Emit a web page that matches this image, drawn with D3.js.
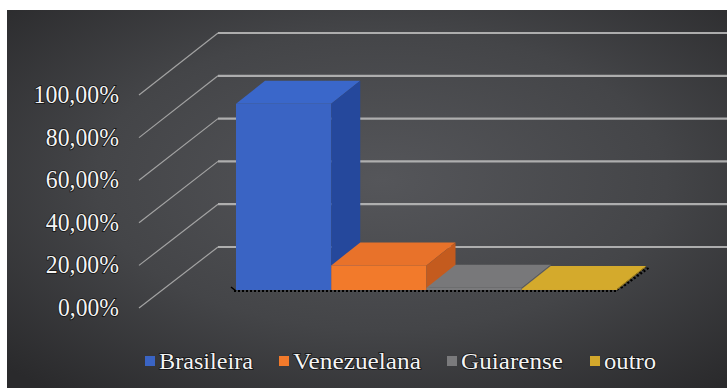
<!DOCTYPE html>
<html>
<head>
<meta charset="utf-8">
<script src="https://cdn.jsdelivr.net/npm/d3@7"></script>
<style>
  html, body { margin: 0; padding: 0; background: #ffffff; }
  svg { display: block; }
  .serif { font-family: "Liberation Serif", "Times New Roman", "DejaVu Serif", serif; }
</style>
</head>
<body>
<svg id="chart" width="727" height="388"></svg>
<script>
// ---- data ----
const categories = ["Brasileira", "Venezuelana", "Guiarense", "outro"];
const values = [0.87, 0.115, 0.01, 0.005];
const tickValues = [0, 0.2, 0.4, 0.6, 0.8, 1.0];
const tickLabels = ["0,00%", "20,00%", "40,00%", "60,00%", "80,00%", "100,00%"];

// ---- styles ----
const frontColors = ["#3a64c4", "#f27a2b", "#7a7a7c", "#d3a82c"];
const topColors   = ["#3a67ca", "#e8722a", "#78787a", "#d4aa2c"];
const sideColors  = ["#25489c", "#c45b1e", "#5e5e60", "#a8861f"];

const svg = d3.select("#chart");
const W = 727, H = 388;

// background
const defs = svg.append("defs");
const rg = defs.append("radialGradient").attr("id", "bg")
  .attr("cx", "0.52").attr("cy", "0.45").attr("r", "0.72");
rg.append("stop").attr("offset", "0").attr("stop-color", "#55565a");
rg.append("stop").attr("offset", "0.55").attr("stop-color", "#444548");
rg.append("stop").attr("offset", "1").attr("stop-color", "#2a2a2c");

svg.append("rect").attr("x", 0).attr("y", 0).attr("width", W).attr("height", H).attr("fill", "#ffffff");
svg.append("rect").attr("x", 7).attr("y", 10).attr("width", W - 7).attr("height", H - 10).attr("fill", "url(#bg)");

// ---- scales ----
const yBack  = d3.scaleLinear().domain([0, 1]).range([247, 33]);   // back wall
const yLabel = d3.scaleLinear().domain([0, 1]).range([308, 95]);   // front end of side wall
const yBar   = d3.scaleLinear().domain([0, 1]).range([290, 76]);   // bars front plane
const x = d3.scaleBand().domain(categories).range([236, 617]).padding(0);
const depth = { dx: 29, dy: -23 };
const backLeftX = 218, frontLeftX = 139;

// back wall gridlines
svg.append("g").selectAll("line").data(tickValues).join("line")
  .attr("x1", backLeftX).attr("x2", W)
  .attr("y1", d => yBack(d)).attr("y2", d => yBack(d))
  .attr("stroke", "#b9b9b9").attr("stroke-width", 2.2).attr("opacity", 0.9);

// side wall diagonals
svg.append("g").selectAll("line").data(tickValues).join("line")
  .attr("x1", backLeftX).attr("y1", d => yBack(d))
  .attr("x2", frontLeftX).attr("y2", d => yLabel(d))
  .attr("stroke", "#a3a3a3").attr("stroke-width", 1.2);

// axis labels
svg.append("g").selectAll("text").data(tickValues).join("text")
  .attr("class", "serif")
  .attr("x", 119).attr("y", d => yLabel(d) + 8)
  .attr("text-anchor", "end")
  .attr("font-size", 25)
  .attr("textLength", (d, i) => tickLabels[i].length * 12.2)
  .attr("lengthAdjust", "spacingAndGlyphs")
  .attr("fill", "#f4f4f4")
  .attr("stroke", "#111").attr("stroke-width", 1.6).attr("paint-order", "stroke")
  .text((d, i) => tickLabels[i]);

// floor outline (dotted)
const x0 = x.range()[0], x1 = x.range()[1], y0 = yBar(0);
const floor = svg.append("g").attr("fill", "none").attr("stroke", "#000").attr("stroke-width", 2)
  .attr("stroke-dasharray", "2,2");
floor.append("line").attr("x1", x0 + depth.dx).attr("y1", y0 + depth.dy)
  .attr("x2", x1 + depth.dx).attr("y2", y0 + depth.dy).attr("stroke-dasharray", "2,20");
floor.append("line").attr("x1", x1).attr("y1", y0).attr("x2", x1 + depth.dx).attr("y2", y0 + depth.dy);
floor.append("line").attr("x1", x1 + 4).attr("y1", y0 - 2).attr("x2", x1 + depth.dx + 4).attr("y2", y0 + depth.dy);

// bars
const bars = svg.append("g");
categories.forEach((c, i) => {
  const v = values[i];
  const bx = x(c), bw = x.bandwidth();
  const yt = yBar(v), yb = yBar(0);
  const g = bars.append("g");
  g.append("rect").attr("x", bx).attr("y", yt).attr("width", bw).attr("height", yb - yt)
    .attr("fill", frontColors[i]);
  g.append("path").attr("d", d3.line()([
    [bx, yt], [bx + depth.dx, yt + depth.dy], [bx + bw + depth.dx, yt + depth.dy], [bx + bw, yt]
  ]) + "Z").attr("fill", topColors[i]);
  g.append("path").attr("d", d3.line()([
    [bx + bw, yt], [bx + bw + depth.dx, yt + depth.dy], [bx + bw + depth.dx, yb + depth.dy], [bx + bw, yb]
  ]) + "Z").attr("fill", sideColors[i]);
});

// front floor edge dotted
svg.append("line").attr("x1", x0 - 2).attr("y1", y0 + 1).attr("x2", x1).attr("y2", y0 + 1)
  .attr("stroke", "#000").attr("stroke-width", 2).attr("stroke-dasharray", "2,2");
svg.append("line").attr("x1", x0 - 5).attr("y1", y0 - 3).attr("x2", x0).attr("y2", y0 + 1)
  .attr("stroke", "#000").attr("stroke-width", 1.5);

// legend
const legendX = [145, 279, 447, 590];
const legendW = [94, 128, 102, 52];
const lg = svg.append("g");
categories.forEach((c, i) => {
  lg.append("rect").attr("x", legendX[i]).attr("y", 356).attr("width", 10).attr("height", 10)
    .attr("fill", frontColors[i]);
  lg.append("text").attr("class", "serif").attr("x", legendX[i] + 14).attr("y", 369)
    .attr("font-size", 24)
    .attr("textLength", legendW[i]).attr("lengthAdjust", "spacingAndGlyphs")
    .attr("fill", "#f4f4f4")
    .attr("stroke", "#111").attr("stroke-width", 1.6).attr("paint-order", "stroke")
    .text(c);
});
</script>
</body>
</html>
